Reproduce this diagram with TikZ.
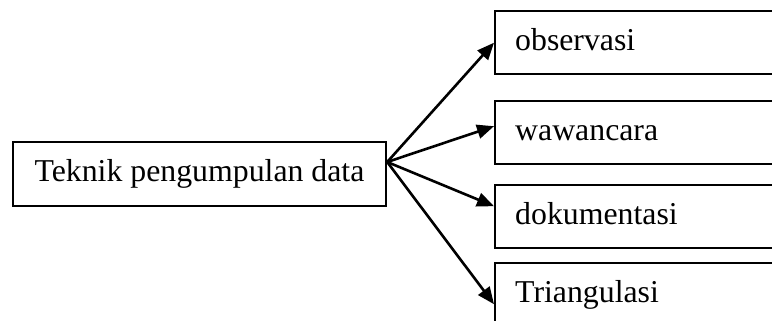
\documentclass[tikz,border=0pt]{standalone}
\usepackage{fontspec}
\setmainfont{Liberation Serif}
\usetikzlibrary{arrows.meta}
\begin{document}
\begin{tikzpicture}[x=1pt,y=-1pt,
  every node/.style={font=\fontsize{31.8}{38}\selectfont},
  box/.style={draw,line width=2.4pt,rectangle,inner sep=0pt,
    text height=20pt,text depth=4pt},
  item/.style={box,anchor=north west,minimum height=63pt,text width=286pt,
    inner xsep=20pt,align=left},
  link/.style={line width=2.6pt,-{Triangle[length=17pt,width=14pt]}}]
\useasboundingbox (0,0) rectangle (772,321);
\clip (0,0) rectangle (772,321);
% source box
\node[box,minimum width=373pt,minimum height=64pt] (src) at (199.5,174) {Teknik pengumpulan data};
% target boxes, running past the right edge
\node[item] (b1) at (494,10) {observasi};
\node[item] (b2) at (494,100) {wawancara};
\node[item] (b3) at (494,184) {dokumentasi};
\node[item] (b4) at (494,262) {Triangulasi};
\coordinate (o) at ([yshift=12pt]src.east);
\draw[link] (o) -- (b1.west);
\draw[link] (o) -- ([yshift=6.5pt]b2.west);
\draw[link] (o) -- ([yshift=10.5pt]b3.west);
\draw[link] (o) -- ([yshift=-9.5pt]b4.west);
\end{tikzpicture}
\end{document}
